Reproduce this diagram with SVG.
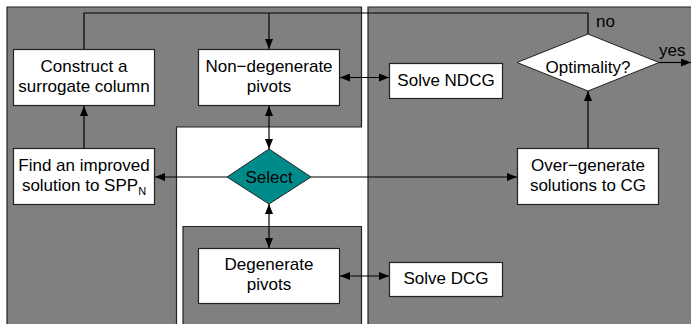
<svg xmlns="http://www.w3.org/2000/svg" width="691" height="324" viewBox="0 0 691 324">
<style>
.panel{fill:#808080;stroke:#222;stroke-width:1.2}
.box{fill:#fff;stroke:#222;stroke-width:1.2}
.dia{fill:#fff;stroke:#222;stroke-width:1}
.sel{fill:#008b8b;stroke:#222;stroke-width:1}
text{font-family:"Liberation Sans",Arial,sans-serif;font-size:17px;fill:#000;text-anchor:middle}
.lbl{text-anchor:start}
.c{fill:none;stroke:#000;stroke-width:1.2}
</style>
<defs>
<marker id="ah" viewBox="0 0 10 8" refX="10" refY="4" markerWidth="10" markerHeight="8" markerUnits="userSpaceOnUse" orient="auto-start-reverse"><path d="M0,0 L10,4 L0,8 z" fill="#000"/></marker>
</defs>
<rect width="691" height="324" fill="#fff"/>
<g id="panels">
<path class="panel" d="M7,330 V7 H361.5 V127 H176.5 V330"/>
<path class="panel" d="M183,330 V226.5 H361.5 V330"/>
<path class="panel" d="M368,330 V7 H700 V330"/>
</g>
<g id="connectors">
<path class="c" d="M588,34 V13 H84 V49"/>
<path class="c" d="M269,13 V49" marker-end="url(#ah)"/>
<path class="c" d="M84,148 V106" marker-end="url(#ah)"/>
<path class="c" d="M227,177 H155" marker-end="url(#ah)"/>
<path class="c" d="M311,177 H517" marker-end="url(#ah)"/>
<path class="c" d="M269,106 V149" marker-start="url(#ah)" marker-end="url(#ah)"/>
<path class="c" d="M269,204 V248" marker-start="url(#ah)" marker-end="url(#ah)"/>
<path class="c" d="M340,77.5 H389" marker-start="url(#ah)" marker-end="url(#ah)"/>
<path class="c" d="M340,276 H389" marker-start="url(#ah)" marker-end="url(#ah)"/>
<path class="c" d="M588,148 V91" marker-end="url(#ah)"/>
<path class="c" d="M659,62.5 H691" marker-end="url(#ah)"/>
<text class="lbl" x="596" y="27">no</text>
<text class="lbl" x="659" y="56">yes</text>
</g>
<g id="construct">
<rect class="box" x="13.5" y="49.5" width="141" height="56"/>
<text x="84" y="72">Construct a</text>
<text x="84" y="92">surrogate column</text>
</g>
<g id="nondeg">
<rect class="box" x="198.5" y="49.5" width="141" height="56"/>
<text x="269" y="72">Non−degenerate</text>
<text x="269" y="92">pivots</text>
</g>
<g id="solvendcg">
<rect class="box" x="389.5" y="63.5" width="113" height="35"/>
<text x="446" y="86">Solve NDCG</text>
</g>
<g id="optimality">
<path class="dia" d="M517,62.5 L588,34 L659,62.5 L588,91 Z"/>
<text x="588" y="72.5">Optimality?</text>
</g>
<g id="improved">
<rect class="box" x="13.5" y="148.5" width="141" height="56"/>
<text x="84" y="171">Find an improved</text>
<text x="84" y="191">solution to SPP<tspan font-size="11" dy="4">N</tspan></text>
</g>
<g id="select">
<path class="sel" d="M227,177 L269,149 L311,177 L269,204 Z"/>
<text x="269" y="183">Select</text>
</g>
<g id="overgen">
<rect class="box" x="517.5" y="148.5" width="141" height="56"/>
<text x="588" y="171">Over−generate</text>
<text x="588" y="191">solutions to CG</text>
</g>
<g id="deg">
<rect class="box" x="198.5" y="248.5" width="141" height="55"/>
<text x="269" y="269.5">Degenerate</text>
<text x="269" y="289.5">pivots</text>
</g>
<g id="solvedcg">
<rect class="box" x="389.5" y="262.5" width="113" height="34"/>
<text x="446" y="284">Solve DCG</text>
</g>
</svg>
